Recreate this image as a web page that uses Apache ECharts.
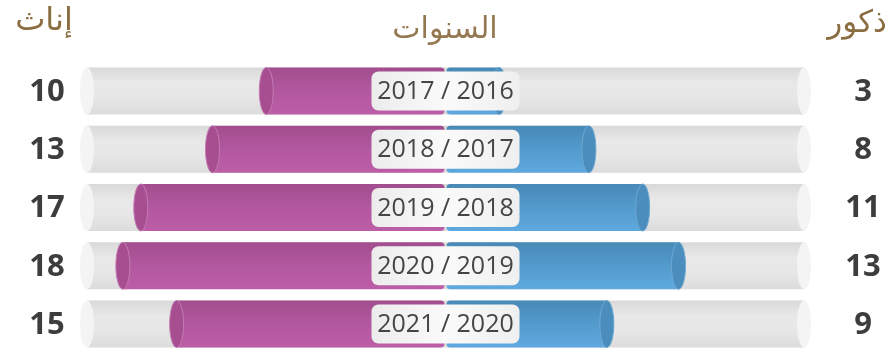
<!DOCTYPE html>
<html>
<head>
<meta charset="utf-8">
<script src="https://cdn.jsdelivr.net/npm/echarts@6/dist/echarts.min.js"></script>
<style>
  html, body { margin: 0; padding: 0; background: #ffffff; }
  #chart { width: 891px; height: 348px; }
</style>
</head>
<body>
<div id="chart"></div>
<script>
// Academic years shown in the centre badges (top row first)
const years = ['2017 / 2016', '2018 / 2017', '2019 / 2018', '2020 / 2019', '2021 / 2020'];
// Counts per year
const females = [10, 13, 17, 18, 15];
const males = [3, 8, 11, 13, 9];
// Full length of each half of the grey track
const trackMax = 20;

const femaleTitle = 'إناث';
const maleTitle = 'ذكور';
const centerTitle = 'السنوات';

const chart = echarts.init(document.getElementById('chart'));

function vGrad(stops) {
  return new echarts.graphic.LinearGradient(0, 0, 0, 1,
    stops.map((c, i) => ({ offset: i / (stops.length - 1), color: c })));
}

const CAP_RX = 7;
const BAR_RATIO = 0.807;

// Distance between neighbouring rows, in pixels
function rowStep(api) {
  return Math.abs(api.coord([0, 1])[1] - api.coord([0, 0])[1]);
}

// Grey track spanning both halves, with pale end faces
function renderTrack(params, api) {
  const row = api.value(0);
  const l = api.coord([-trackMax, row]);
  const r = api.coord([trackMax, row]);
  const h = rowStep(api) * BAR_RATIO;
  return {
    type: 'group',
    children: [
      { type: 'rect', shape: { x: l[0], y: l[1] - h / 2, width: r[0] - l[0], height: h },
        style: { fill: vGrad(['#d9d9d9', '#e9e9e9', '#e6e6e6', '#dcdcdc']) } },
      { type: 'ellipse', shape: { cx: l[0], cy: l[1], rx: CAP_RX, ry: h / 2 },
        style: { fill: '#f4f4f4' } },
      { type: 'ellipse', shape: { cx: r[0], cy: r[1], rx: CAP_RX, ry: h / 2 },
        style: { fill: '#f4f4f4' } }
    ]
  };
}

// Coloured cylinder from the centre line out to the value
function cylinder(bodyStops, capFill, capStroke) {
  return function (params, api) {
    const v = api.value(0);
    const row = api.value(1);
    const end = api.coord([v, row]);
    const start = api.coord([0, row]);
    const h = rowStep(api) * BAR_RATIO;
    const dir = end[0] < start[0] ? -1 : 1;
    const sx = start[0] + dir * 1;           // small seam at the centre line
    const x0 = Math.min(sx, end[0]);
    const x1 = Math.max(sx, end[0]);
    const rad = dir < 0 ? [0, 4, 4, 0] : [4, 0, 0, 4];
    return {
      type: 'group',
      children: [
        { type: 'rect', shape: { x: x0, y: end[1] - h / 2, width: x1 - x0, height: h, r: rad },
          style: { fill: vGrad(bodyStops) } },
        { type: 'ellipse', shape: { cx: end[0], cy: end[1], rx: CAP_RX, ry: h / 2 },
          style: { fill: capFill, stroke: capStroke, lineWidth: 1 } }
      ]
    };
  };
}

// Year badge in the middle of each row
function renderBadge(params, api) {
  const row = api.value(0);
  const c = api.coord([0, row]);
  const w = 148, h = 39;
  return {
    type: 'group',
    children: [
      { type: 'rect', shape: { x: c[0] - w / 2, y: c[1] - h / 2, width: w, height: h, r: 7 },
        style: { fill: new echarts.graphic.LinearGradient(0, 0, 1, 0, [
          { offset: 0, color: '#ececec' }, { offset: 0.5, color: '#fafafa' }, { offset: 1, color: '#efefef' }]) } },
      { type: 'text', x: c[0], y: c[1] + 1,
        style: { text: years[row], fill: '#454545', font: '25px "Open Sans"',
          align: 'center', verticalAlign: 'middle' } }
    ]
  };
}

// Side value labels
function sideLabel(values, x) {
  return function (params, api) {
    const row = api.value(0);
    const c = api.coord([0, row]);
    return {
      type: 'text', x: x, y: c[1] + 1,
      style: { text: String(values[row]), fill: '#3d3d3d', font: 'bold 31px "Open Sans"',
        align: 'center', verticalAlign: 'middle' }
    };
  };
}

const rows = years.map((_, i) => [i]);

chart.setOption({
  animation: false,
  grid: { left: 87, right: 87, top: 91, bottom: 24 },
  xAxis: { type: 'value', min: -trackMax, max: trackMax, show: false },
  yAxis: { type: 'category', data: years, inverse: true, boundaryGap: false, show: false },
  graphic: [
    { type: 'text', x: 44, y: 22,
      style: { text: femaleTitle, fill: '#8b6d42', font: '32px "DejaVu Sans"',
        align: 'center', verticalAlign: 'middle' } },
    { type: 'text', x: 857, y: 24,
      style: { text: maleTitle, fill: '#8b6d42', font: '31px "DejaVu Sans"',
        align: 'center', verticalAlign: 'middle' } },
    { type: 'text', x: 445, y: 30,
      style: { text: centerTitle, fill: '#947851', font: '30px "DejaVu Sans"',
        align: 'center', verticalAlign: 'middle' } }
  ],
  series: [
    { type: 'custom', renderItem: renderTrack, data: rows, encode: { y: 0 }, silent: true },
    { type: 'custom',
      renderItem: cylinder(['#a24d8d', '#b258a0', '#bd5ea7'], '#a64e90', '#c57bb4'),
      data: females.map((v, i) => [-v, i]), encode: { x: 0, y: 1 } },
    { type: 'custom',
      renderItem: cylinder(['#4889b7', '#539bcd', '#5ea9df'], '#4b8dbc', '#6fa9d3'),
      data: males.map((v, i) => [v, i]), encode: { x: 0, y: 1 } },
    { type: 'custom', renderItem: renderBadge, data: rows, encode: { y: 0 } },
    { type: 'custom', renderItem: sideLabel(females, 47), data: rows, encode: { y: 0 } },
    { type: 'custom', renderItem: sideLabel(males, 863), data: rows, encode: { y: 0 } }
  ]
});
</script>
</body>
</html>
